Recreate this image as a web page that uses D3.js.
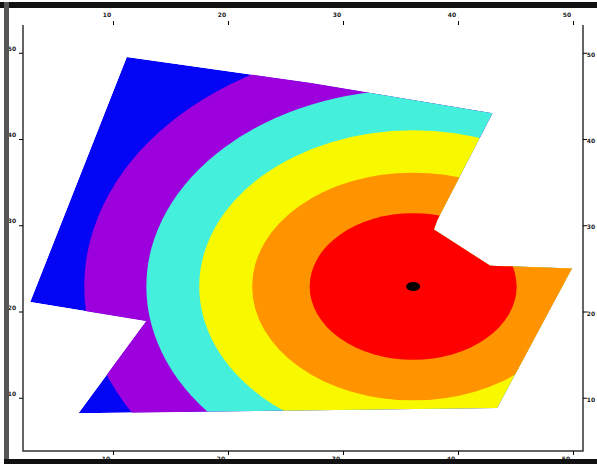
<!DOCTYPE html>
<html>
<head>
<meta charset="utf-8">
<script src="https://cdn.jsdelivr.net/npm/d3@7"></script>
<style>
  body { margin: 0; background: #fff; }
</style>
</head>
<body>
<div class="container"></div>
<script>
// tick values / labels
var xTicks = [10, 20, 30, 40, 50];
var yTicks = [10, 20, 30, 40, 50];

// outline of the computed area
var domainPts = [[11.2,49.5],[27.2,46.5],[43.0,43.0],[38.2,30.6],[37.9,29.5],[42.8,25.3],[49.9,25.0],[43.4,8.8],[7.0,8.2],[12.9,18.9],[2.8,21.1]];

// source point and contour levels (radius along x and y), outermost first
var centerPt = [36.1, 22.9];
var levelRx = [28.6, 23.2, 18.6, 14.0, 9.0];
var levelRy = [28.2, 22.8, 18.1, 13.2, 8.5];
var levelColors = ["#9c00dc", "#44f0dc", "#f8f800", "#ff9400", "#ff0000"];

var width = 597,
    height = 464;
var box = {left: 23, right: 583, top: 25, bottom: 451};

var svg = d3.select(".container").append("svg")
    .attr("width", width)
    .attr("height", height)
    .style("display", "block");

var x = d3.scaleLinear().domain([0, 50]).range([-2, 573]);
var y = d3.scaleLinear().domain([0, 50]).range([484, 52.75]);

var outline = d3.line().x(d => x(d[0])).y(d => y(d[1])).curve(d3.curveLinearClosed);

svg.append("clipPath").attr("id", "dom")
  .append("path").attr("d", outline(domainPts));

// filled contours
var g = svg.append("g").attr("clip-path", "url(#dom)");
g.append("path").attr("d", outline(domainPts)).attr("fill", "#0505f5");
g.selectAll(".band")
  .data(levelRx)
  .join("ellipse")
    .attr("class", "band")
    .attr("cx", x(centerPt[0]))
    .attr("cy", y(centerPt[1]))
    .attr("rx", d => x(centerPt[0] + d) - x(centerPt[0]))
    .attr("ry", (d, i) => y(centerPt[1]) - y(centerPt[1] + levelRy[i]))
    .attr("fill", (d, i) => levelColors[i]);

svg.append("ellipse")
    .attr("cx", x(centerPt[0]))
    .attr("cy", y(centerPt[1]))
    .attr("rx", 7)
    .attr("ry", 4.5)
    .attr("fill", "#000");

// axes box (open on top)
svg.append("path")
    .attr("d", `M${box.left},${box.top}V${box.bottom}H${box.right}V${box.top}`)
    .attr("fill", "none")
    .attr("stroke", "#333")
    .attr("stroke-width", 1.5);

var font = "bold 6px 'DejaVu Sans', sans-serif";

// ticks on all four sides
svg.append("g")
    .attr("transform", `translate(0,${box.bottom})`)
    .call(d3.axisBottom(x).tickValues(xTicks).tickSize(4).tickFormat(""))
    .call(g => g.select(".domain").remove());
svg.append("g")
    .attr("transform", `translate(0,${box.top})`)
    .call(d3.axisTop(x).tickValues(xTicks).tickSize(4).tickFormat(""))
    .call(g => g.select(".domain").remove());
svg.append("g")
    .attr("transform", `translate(${box.left},0)`)
    .call(d3.axisLeft(y).tickValues(yTicks).tickSize(4).tickFormat(""))
    .call(g => g.select(".domain").remove());
svg.append("g")
    .attr("transform", `translate(${box.right},0)`)
    .call(d3.axisRight(y).tickValues(yTicks).tickSize(4).tickFormat(""))
    .call(g => g.select(".domain").remove());

// tick labels
var lab = svg.append("g").style("font", font).attr("fill", "#222").attr("text-anchor", "middle");
lab.selectAll(".xt").data(xTicks).join("text")
    .attr("x", d => x(d) - 6).attr("y", 17).text(d => d);
lab.selectAll(".xb").data(xTicks).join("text")
    .attr("x", d => x(d) - 7).attr("y", 461).text(d => d);
lab.selectAll(".yl").data(yTicks).join("text")
    .attr("x", 12).attr("y", d => y(d) - 2).text(d => d);
lab.selectAll(".yr").data(yTicks).join("text")
    .attr("x", 591).attr("y", d => y(d) + 4).text(d => d);

// outer frame
svg.append("rect").attr("x", 0).attr("y", 2).attr("width", width).attr("height", 6).attr("fill", "#111");
svg.append("rect").attr("x", 4).attr("y", 2).attr("width", 5).attr("height", height).attr("fill", "#555");
svg.append("rect").attr("x", 4).attr("y", 459).attr("width", width).attr("height", 5).attr("fill", "#111");
</script>
</body>
</html>
